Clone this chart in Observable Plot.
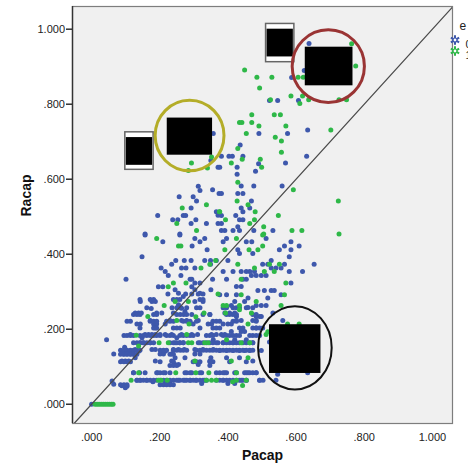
<!DOCTYPE html>
<html><head><meta charset="utf-8">
<script src="https://cdn.jsdelivr.net/npm/d3@7"></script>
<script src="https://cdn.jsdelivr.net/npm/@observablehq/plot@0.6"></script>
<style>body{margin:0;background:#fff;}</style>
</head><body><div id="chart"></div>
<script>
// series 0 (blue): [Pacap, Racap]
const blue = [
[.357,.722],[.371,.632],[.350,.650],[.313,.581],[.318,.570],[.355,.572],[.374,.562],[.257,.553],[.298,.553],[.308,.542],[.292,.523],[.366,.513],[.371,.504],[.194,.503],[.238,.492],[.253,.492],[.269,.503],[.276,.503],[.292,.482],[.306,.492],[.337,.482],[.371,.482],[.157,.454],[.259,.454],
[.587,.871],[.607,.810],[.522,.810],[.546,.810],[.638,.962],[.624,.890],[.634,.731],[.491,.722],[.575,.722],[.436,.691],[.381,.661],[.403,.661],[.413,.661],[.444,.661],[.631,.661],[.490,.641],[.569,.643],[.427,.632],[.376,.632],[.481,.621],[.427,.613],[.439,.582],[.476,.582],[.559,.582],[.381,.562],[.429,.562],[.444,.562],[.469,.542],[.439,.523],[.464,.523],[.444,.513],[.423,.503],[.381,.503],[.434,.492],[.444,.492],[.381,.482],[.429,.473],[.532,.463],[.415,.463],[.434,.463],[.381,.463],[.391,.463],[.476,.463],
[.157,.451],[.209,.433],[.259,.451],[.295,.422],[.303,.442],[.318,.433],[.332,.442],[.339,.412],[.148,.393],[.247,.383],[.272,.383],[.292,.383],[.332,.383],[.349,.383],[.366,.383],[.235,.373],[.349,.373],[.264,.363],[.277,.363],[.303,.363],[.204,.363],[.216,.354],[.225,.343],[.262,.343],[.101,.333],[.289,.333],[.294,.333],[.355,.333],[.303,.323],[.318,.323],[.196,.313],[.209,.313],[.245,.305],[.255,.296],[.269,.287],[.294,.313],[.303,.305],[.318,.296],[.350,.305],[.224,.294],[.276,.294],[.294,.294],[.313,.294],[.327,.294],[.143,.274],[.177,.274],[.187,.274],[.255,.265],[.264,.256],[.303,.274],[.327,.274],[.128,.243],[.138,.243],[.146,.243],[.175,.255],[.191,.243],[.206,.243],[.240,.243],[.274,.247],[.294,.239],[.347,.239],[.133,.214],[.143,.214],[.172,.223],[.182,.214],[.191,.214],[.216,.214],[.230,.223],[.264,.223],[.279,.223],[.298,.214],[.313,.223],[.342,.214],[.352,.214],[.187,.203],[.114,.186],[.044,.172],[.148,.177],[.157,.186],[.167,.186],[.177,.186],[.187,.186],[.201,.186],[.216,.186],[.235,.186],[.250,.177],[.264,.186],[.294,.186],[.311,.186],[.352,.186],[.366,.186],[.143,.164],[.152,.164],[.172,.164],[.245,.164],[.259,.164],[.269,.164],[.313,.164],[.357,.172],[.371,.164],[.097,.152],[.128,.146],[.138,.141],[.177,.146],[.187,.146],[.206,.141],[.216,.141],[.240,.146],[.255,.146],[.272,.146],[.303,.146],[.327,.146],[.357,.146],[.065,.134],[.094,.134],[.104,.134],[.114,.134],[.123,.134],[.201,.134],[.211,.134],[.235,.134],[.245,.124],[.274,.124],[.303,.134],[.318,.134],[.350,.124],[.089,.115],[.099,.115],[.109,.115],[.128,.124],[.187,.115],[.235,.115],[.245,.106],[.255,.106],[.313,.106],[.347,.115],[.123,.084],[.141,.084],[.157,.084],[.194,.084],[.216,.084],[.274,.084],[.294,.084],[.323,.084],[.366,.084],[.065,.053],[.089,.049],[.099,.044],[.104,.048],[.133,.064],[.143,.064],[.162,.064],[.180,.060],[.216,.055],[.230,.055],[.240,.064],[.255,.064],[.274,.064],[.289,.064],[.306,.064],[.323,.055],[.332,.064],[.060,.062],[0,0],
[.386,.433],[.396,.442],[.454,.433],[.470,.433],[.512,.442],[.429,.412],[.473,.402],[.434,.402],[.551,.412],[.566,.422],[.585,.433],[.609,.422],[.585,.412],[.580,.393],[.527,.383],[.400,.383],[.502,.373],[.517,.373],[.566,.373],[.653,.373],[.527,.363],[.541,.363],[.556,.363],[.464,.354],[.478,.354],[.386,.354],[.415,.354],[.439,.354],[.454,.354],[.580,.354],[.619,.354],[.396,.333],[.444,.333],[.454,.333],[.469,.343],[.483,.343],[.498,.343],[.512,.343],[.585,.323],[.425,.314],[.439,.314],[.376,.292],[.396,.292],[.425,.292],[.459,.283],[.488,.303],[.507,.303],[.527,.303],[.536,.303],[.517,.283],[.556,.292],[.420,.274],[.449,.274],[.410,.263],[.459,.258],[.483,.263],[.498,.263],[.512,.263],[.391,.243],[.405,.243],[.420,.243],[.425,.234],[.483,.234],[.493,.234],[.532,.243],[.386,.214],[.400,.214],[.410,.214],[.425,.223],[.439,.223],[.473,.223],[.483,.223],[.483,.203],[.502,.203],[.498,.234],[.561,.223],[.381,.186],[.391,.186],[.410,.194],[.439,.194],[.449,.194],[.420,.172],[.454,.172],[.386,.164],[.415,.164],[.473,.164],[.376,.143],[.396,.143],[.415,.143],[.434,.143],[.449,.143],[.464,.143],[.498,.143],[.396,.124],[.434,.124],[.473,.115],[.391,.084],[.420,.084],[.449,.084],[.459,.084],[.483,.084],[.386,.064],[.400,.055],[.420,.055],[.439,.064],[.454,.064],[.493,.064],[.541,.064],[.634,.084],[.546,.080],[.522,.166]
];
// series 0 (blue): dense rows of the lower cluster, read row by row
const blueRows = [
[.142,.279],[.172,.279],[.182,.279],[.240,.279],[.250,.279],[.259,.279],[.318,.279],[.327,.279],
[.162,.257],[.236,.257],[.250,.257],[.262,.257],[.279,.257],[.308,.257],[.318,.257],[.386,.257],[.396,.257],[.415,.257],[.425,.257],[.434,.257],[.454,.257],[.473,.257],
[.123,.239],[.133,.239],[.142,.239],[.182,.239],[.191,.239],[.250,.239],[.260,.239],[.270,.239],[.279,.239],[.327,.239],[.347,.239],[.396,.239],[.405,.239],[.415,.239],[.425,.239],[.473,.239],[.483,.239],
[.104,.221],[.114,.221],[.172,.221],[.182,.221],[.191,.221],[.220,.221],[.230,.221],[.240,.221],[.269,.221],[.279,.221],[.289,.221],[.308,.221],[.356,.221],[.366,.221],[.376,.221],[.415,.221],[.425,.221],[.483,.221],
[.142,.203],[.182,.203],[.191,.203],[.240,.203],[.250,.203],[.260,.203],[.318,.203],[.356,.203],[.366,.203],[.376,.203],[.434,.203],[.444,.203],[.473,.203],[.483,.203],[.493,.203],
[.095,.183],[.104,.183],[.114,.183],[.123,.183],[.142,.183],[.152,.183],[.162,.183],[.172,.183],[.182,.183],[.191,.183],[.201,.183],[.220,.183],[.230,.183],[.240,.183],[.259,.183],[.269,.183],[.279,.183],[.289,.183],[.298,.183],[.337,.183],[.347,.183],[.356,.183],[.386,.183],[.396,.183],[.405,.183],[.415,.183],[.425,.183],[.434,.183],[.464,.183],[.473,.183],[.483,.183],[.493,.183],
[.123,.164],[.133,.164],[.142,.164],[.152,.164],[.162,.164],[.172,.164],[.182,.164],[.230,.164],[.240,.164],[.250,.164],[.259,.164],[.269,.164],[.318,.164],[.327,.164],[.337,.164],[.347,.164],[.356,.164],[.366,.164],[.386,.164],[.396,.164],[.405,.164],[.415,.164],[.425,.164],[.434,.164],[.444,.164],[.454,.164],[.464,.164],[.473,.164],
[.085,.144],[.095,.144],[.104,.144],[.114,.144],[.123,.144],[.133,.144],[.142,.144],[.201,.144],[.211,.144],[.220,.144],[.240,.144],[.250,.144],[.260,.144],[.269,.144],[.279,.144],[.308,.144],[.318,.144],[.327,.144],[.337,.144],[.347,.144],[.356,.144],[.366,.144],[.376,.144],[.386,.144],[.396,.144],[.405,.144],[.415,.144],[.425,.144],[.434,.144],[.444,.144],[.454,.144],[.464,.144],[.473,.144],
[.085,.133],[.095,.133],[.104,.133],[.114,.133],[.123,.133],[.133,.133],[.230,.133],[.240,.133],
[.085,.113],[.095,.113],[.104,.113],[.114,.113],[.201,.113],[.240,.113],[.298,.113],[.308,.113],[.318,.113],[.347,.113],[.356,.113],[.405,.113],[.454,.113],
[.230,.103],[.240,.103],[.250,.103],[.347,.103],
[.123,.084],[.191,.084],[.201,.084],[.211,.084],[.230,.084],[.279,.084],[.289,.084],[.318,.084],[.376,.084],[.386,.084],[.396,.084],[.425,.084],[.454,.084],[.464,.084],[.473,.084],[.483,.084],
[.133,.064],[.142,.064],[.152,.064],[.162,.064],[.172,.064],[.182,.064],[.191,.064],[.201,.064],[.211,.064],[.220,.064],[.230,.064],[.250,.064],[.259,.064],[.269,.064],[.279,.064],[.289,.064],[.298,.064],[.308,.064],[.318,.064],[.327,.064],[.337,.064],[.366,.064],[.376,.064],[.386,.064],[.396,.064],[.405,.064],[.415,.064],[.425,.064],[.434,.064],[.444,.064],[.454,.064],[.493,.064],[.503,.064],
[.085,.052],[.095,.052],[.104,.052],[.201,.052],[.211,.052],[.220,.052],[.230,.052],[.240,.052]
];
// series 1 (green): [Pacap, Racap]
const green = [
[.352,.659],[.293,.643],[.284,.623],[.340,.630],[.266,.523],[.337,.532],[.375,.513],[.250,.482],[.308,.463],
[.449,.891],[.485,.872],[.529,.872],[.606,.872],[.621,.872],[.493,.843],[.585,.822],[.619,.822],[.611,.802],[.637,.812],[.525,.812],[.726,.812],[.748,.812],[.470,.772],[.536,.772],[.554,.772],[.434,.751],[.441,.751],[.470,.751],[.491,.742],[.570,.742],[.702,.731],[.454,.722],[.539,.712],[.557,.702],[.429,.682],[.557,.672],[.442,.653],[.495,.653],[.410,.643],[.499,.632],[.429,.592],[.592,.572],[.427,.542],[.724,.542],[.459,.532],[.480,.513],[.376,.513],[.548,.503],[.393,.492],[.478,.492],[.464,.482],[.505,.473],[.588,.463],[.617,.463],[.726,.454],[.505,.454],[.763,.961],[.775,.902],
[.191,.442],[.255,.422],[.262,.422],[.364,.383],[.347,.373],[.321,.363],[.240,.323],[.277,.323],[.225,.313],[.371,.294],[.213,.263],[.245,.274],[.284,.274],[.306,.233],[.330,.243],[.165,.234],[.250,.223],[.286,.214],[.131,.184],[.279,.186],[.198,.164],[.225,.164],[.284,.164],[.294,.164],[.332,.164],[.342,.164],[.138,.155],[.303,.115],[.138,.084],[.247,.084],[.306,.084],[.344,.084],[.116,.064],[.196,.064],[.204,.064],[.222,.064],[.337,.064],[.352,.064],[.366,.064],[.414,.060],[.443,.050],
[.010,0],[.016,0],[.022,0],[.028,0],[.034,0],[.040,0],[.046,0],[.052,0],[.058,0],[.063,0],
[.425,.442],[.502,.451],[.391,.412],[.462,.412],[.488,.412],[.502,.422],[.429,.373],[.522,.373],[.551,.373],[.478,.363],[.507,.354],[.536,.354],[.439,.333],[.570,.323],[.439,.292],[.566,.292],[.483,.274],[.386,.263],[.396,.263],[.434,.263],[.434,.252],[.556,.263],[.393,.243],[.469,.243],[.459,.214],[.575,.214],[.609,.214],[.512,.186],[.517,.193],[.396,.172],[.439,.164],[.464,.164],[.410,.115],[.459,.124],[.425,.084],[.425,.064],[.454,.064]
];
const xTicks = [0, .2, .4, .6, .8, 1];
const yTicks = [0, .2, .4, .6, .8, 1];
const xDomain = [-0.056, 1.059];
const yDomain = [-0.0514, 1.0605];
const diagonal = [-0.07, 1.08];
const xLabel = "Pacap";
const yLabel = "Racap";
const legendTitle = "e";
const legendLabels = ["0", "1"];
const seriesColors = ["#3E58AC", "#2EB848"];
// annotation overlays (data units)
const blackBoxes = [
  {x1: .222, x2: .355, y1: .664, y2: .763},
  {x1: .627, x2: .767, y1: .849, y2: .952},
  {x1: .522, x2: .673, y1: .082, y2: .212}
];
const tagBoxes = [
  {x1: .099, x2: .182, y1: .625, y2: .725, iy1: .637, iy2: .711},
  {x1: .512, x2: .595, y1: .912, y2: 1.014, iy1: .926, iy2: 1.000}
];
const rings = [
  {x: .289, y: .715, rx: .101, ry: .094, color: "#b4ad28", w: 3},
  {x: .696, y: .900, rx: .106, ry: .097, color: "#9a3434", w: 3},
  {x: .598, y: .149, rx: .108, ry: .111, color: "#111111", w: 2}
];

const fmt = d => d3.format(".3f")(d).replace(/^0\./, ".");

function ringMark(data) {
  return (index, scales) => {
    const g = d3.create("svg:g");
    for (const d of data) {
      g.append("ellipse")
        .attr("cx", scales.x(d.x)).attr("cy", scales.y(d.y))
        .attr("rx", Math.abs(scales.x(d.x + d.rx) - scales.x(d.x)))
        .attr("ry", Math.abs(scales.y(d.y + d.ry) - scales.y(d.y)))
        .attr("fill", "none").attr("stroke", d.color).attr("stroke-width", d.w);
    }
    return g.node();
  };
}

const legendMarks = legendLabels.flatMap((lab, i) => [
  Plot.dot([lab], {frameAnchor: "top-right", dx: 2.5, dy: 33.5 + i * 11, r: 4.5, symbol: "asterisk", stroke: seriesColors[i], strokeWidth: 2}),
  Plot.dot([lab], {frameAnchor: "top-right", dx: 2.5, dy: 33.5 + i * 11, r: 2, fill: "white", stroke: seriesColors[i], strokeWidth: 1.2}),
  Plot.text([lab], {frameAnchor: "top-right", dx: 13, dy: 33.5 + i * 11, text: d => d, textAnchor: "start", fontSize: 11, fill: "#222"})
]);

const chart = Plot.plot({
  width: 468, height: 470,
  marginLeft: 72, marginRight: 16, marginTop: 6, marginBottom: 47,
  x: {domain: xDomain},
  y: {domain: yDomain},
  style: {fontFamily: "'Liberation Sans', Arial, sans-serif", background: "white", overflow: "visible"},
  marks: [
    Plot.frame({fill: "#f0f0f0", stroke: "#7d7d7d", strokeWidth: 1.2}),
    Plot.dot(blue.concat(blueRows), {x: d => d[0], y: d => d[1], r: 2.5, fill: seriesColors[0]}),
    Plot.dot(green, {x: d => d[0], y: d => d[1], r: 2.5, fill: seriesColors[1]}),
    Plot.line(diagonal, {x: d => d, y: d => d, stroke: "#4a4a4a", strokeWidth: 1.3, clip: true}),
    Plot.rect(tagBoxes, {x1: "x1", x2: "x2", y1: "y1", y2: "y2", fill: "white", stroke: "#666", strokeWidth: 1.5}),
    Plot.rect(tagBoxes, {x1: "x1", x2: "x2", y1: "iy1", y2: "iy2", fill: "black", insetLeft: 1, insetRight: 1}),
    Plot.rect(blackBoxes, {x1: "x1", x2: "x2", y1: "y1", y2: "y2", fill: "black"}),
    ringMark(rings),
    Plot.ruleX([xDomain[0]], {stroke: "#333", strokeWidth: 1.4}),
    Plot.axisY(yTicks, {tickSize: 6, tickPadding: 1.5, tickFormat: fmt, fontSize: 11, label: null, color: "#222", strokeWidth: 1.4}),
    Plot.axisX(xTicks, {tickSize: 0, tickPadding: 10, tickFormat: fmt, fontSize: 11, label: null, color: "#222"}),
    Plot.text([xLabel], {frameAnchor: "bottom", dy: 36, text: d => d, fontSize: 14, fontWeight: "bold", fill: "#111"}),
    Plot.text([yLabel], {frameAnchor: "left", dx: -46, dy: 1.5, rotate: -90, text: d => d, fontSize: 14, fontWeight: "bold", fill: "#111"}),
    Plot.text([legendTitle], {frameAnchor: "top-right", dx: 7, dy: 15, text: d => d, textAnchor: "start", fontSize: 12, fill: "#222"}),
    ...legendMarks
  ]
});
document.getElementById("chart").appendChild(chart);
</script>
</body></html>
